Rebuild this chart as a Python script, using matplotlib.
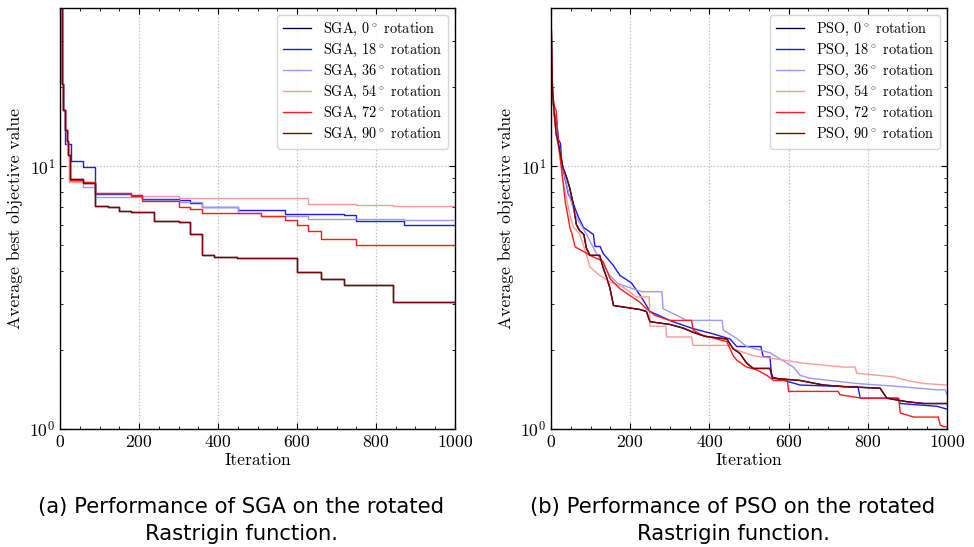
import matplotlib
matplotlib.use("Agg")

import matplotlib.pyplot as plt
from matplotlib.ticker import MultipleLocator, LogLocator, NullFormatter

# ---- data (iteration, average best objective) ----
angles = [0, 18, 36, 54, 72, 90]
colors = ["#00004d", "#1a1aff", "#9999ff", "#ff9999", "#ff1a1a", "#800000"]

# SGA: 0 and 90 degree runs coincide (Rastrigin is symmetric under 90 deg)
sga_90_x = [0, 4, 8, 13, 17, 21, 25, 59, 89, 122, 149, 180, 239, 300, 329, 359, 391, 447, 599, 661, 720, 842, 1000]
sga_90_y = [40, 20.5, 16.3, 13.7, 12.5, 11.0, 8.95, 8.66, 7.05, 7.0, 6.73, 6.67, 6.2, 6.12, 5.51, 4.58, 4.51, 4.47, 3.96, 3.73, 3.54, 3.05, 3.03]
sga_0_x = list(sga_90_x)
sga_0_y = list(sga_90_y)
sga_18_x = [0, 4, 8, 13, 27, 59, 89, 180, 208, 300, 329, 359, 450, 570, 720, 750, 870, 929, 1000]
sga_18_y = [40, 20.5, 16.3, 12.2, 10.45, 9.9, 7.85, 7.75, 7.52, 7.41, 7.25, 6.99, 6.79, 6.59, 6.5, 6.18, 6.0, 5.95, 5.95]
sga_36_x = [0, 4, 8, 13, 17, 24, 59, 89, 208, 300, 360, 451, 510, 629, 870, 1000]
sga_36_y = [40, 20.5, 16.3, 13.7, 12.0, 8.8, 8.3, 7.63, 7.45, 7.3, 7.0, 6.65, 6.45, 6.3, 6.22, 6.22]
sga_54_x = [0, 4, 8, 13, 17, 24, 89, 180, 300, 506, 629, 750, 842, 1000]
sga_54_y = [40, 20.5, 16.3, 13.7, 12.0, 8.7, 7.88, 7.68, 7.6, 7.57, 7.15, 7.1, 7.05, 7.0]
sga_72_x = [0, 4, 8, 13, 17, 21, 25, 59, 89, 180, 208, 300, 329, 359, 510, 570, 599, 629, 661, 750, 1000]
sga_72_y = [40, 20.5, 16.3, 13.7, 12.5, 11.0, 8.9, 8.7, 7.88, 7.68, 7.37, 6.99, 6.85, 6.63, 6.45, 6.25, 5.95, 5.66, 5.30, 5.0, 5.0]

# PSO (0 and 90 degree runs overlap as well)
pso_90_x = [0, 2, 4, 8, 13, 22, 30, 39, 47, 56, 64, 72, 83, 89, 98, 123, 131, 140, 148, 158, 224, 241,
            250, 300, 334, 360, 390, 444, 460, 477, 494, 511, 553, 560, 629, 688, 739, 831, 848, 899, 941, 1000]
pso_90_y = [40, 25, 19, 16, 13.3, 11.5, 9.9, 9.1, 8.3, 7.2, 6.0, 5.7, 5.5, 4.9, 4.58, 4.58, 4.14, 3.79, 3.47, 2.95, 2.85, 2.8,
            2.56, 2.50, 2.42, 2.33, 2.25, 2.20, 2.02, 1.94, 1.78, 1.70, 1.70, 1.56, 1.53, 1.47, 1.45, 1.43, 1.31, 1.27, 1.25, 1.25]
pso_0_x = list(pso_90_x)
pso_0_y = list(pso_90_y)
pso_18_x = [0, 2, 4, 8, 14, 19, 24, 27, 40, 44, 52, 61, 69, 82, 107, 111, 124, 132, 157, 174, 203, 228, 250,
            305, 359, 410, 452, 469, 530, 536, 553, 557, 570, 629, 739, 775, 781, 875, 882, 975, 1000]
pso_18_y = [40, 25, 19, 16, 14.9, 12.6, 12.2, 10.3, 8.34, 7.8, 7.5, 6.9, 6.42, 5.85, 5.5, 4.95, 4.95, 4.65, 4.2, 3.84, 3.6, 3.18, 2.8,
            2.57, 2.41, 2.3, 2.2, 2.06, 2.06, 1.88, 1.88, 1.58, 1.56, 1.47, 1.45, 1.45, 1.31, 1.31, 1.25, 1.22, 1.19]
pso_36_x = [0, 2, 4, 8, 13, 22, 30, 47, 64, 89, 98, 115, 131, 148, 170, 199, 230, 280, 283, 317, 342,
            432, 435, 469, 494, 553, 578, 612, 629, 654, 772, 882, 975, 995, 1000]
pso_36_y = [40, 25, 19, 16, 13.5, 11.5, 9.9, 7.63, 6.41, 5.53, 5.2, 4.65, 4.26, 3.84, 3.57, 3.45, 3.33, 3.33, 2.87, 2.71, 2.59,
            2.59, 2.38, 2.21, 2.06, 1.95, 1.85, 1.72, 1.60, 1.56, 1.49, 1.45, 1.41, 1.41, 1.35]
pso_54_x = [0, 2, 4, 8, 13, 22, 30, 47, 56, 72, 89, 98, 123, 148, 182, 216, 248, 250, 290, 292, 355, 359, 455, 460,
            511, 587, 637, 739, 768, 772, 865, 899, 941, 1000]
pso_54_y = [40, 25, 19, 16, 13.3, 11.0, 8.8, 6.6, 5.87, 5.53, 4.65, 4.14, 3.84, 3.63, 3.47, 3.18, 3.18, 2.46, 2.46, 2.24, 2.24, 2.08, 2.08, 2.02,
            1.9, 1.83, 1.78, 1.72, 1.72, 1.63, 1.58, 1.53, 1.49, 1.47]
pso_72_x = [0, 2, 4, 8, 13, 18, 27, 36, 44, 48, 52, 61, 86, 98, 131, 150, 174, 224, 241, 262, 300, 355,
            359, 380, 444, 460, 469, 494, 519, 545, 562, 597, 600, 725, 730, 785, 878, 882, 916, 978, 983, 992, 1000]
pso_72_y = [40, 25, 19, 17, 16.3, 12.5, 9.7, 7.3, 6.3, 5.8, 5.6, 4.93, 4.7, 4.58, 4.35, 3.72, 3.42, 3.04, 2.87, 2.71, 2.59, 2.59,
            2.38, 2.28, 2.15, 1.9, 1.83, 1.72, 1.68, 1.60, 1.53, 1.53, 1.39, 1.39, 1.35, 1.31, 1.31, 1.15, 1.11, 1.11, 1.035, 1.02, 1.02]

sga_series = [(sga_0_x, sga_0_y), (sga_18_x, sga_18_y), (sga_36_x, sga_36_y),
              (sga_54_x, sga_54_y), (sga_72_x, sga_72_y), (sga_90_x, sga_90_y)]
pso_series = [(pso_0_x, pso_0_y), (pso_18_x, pso_18_y), (pso_36_x, pso_36_y),
              (pso_54_x, pso_54_y), (pso_72_x, pso_72_y), (pso_90_x, pso_90_y)]

caption_lines = [("(a) Performance of SGA on the rotated", "Rastrigin function."),
                 ("(b) Performance of PSO on the rotated", "Rastrigin function.")]

plt.rcParams.update({
    "font.family": "serif",
    "font.serif": ["cmr10"],
    "mathtext.fontset": "cm",
    "axes.formatter.use_mathtext": True,
    "font.size": 12.7,
    "axes.linewidth": 1.0,
    "xtick.direction": "in",
    "ytick.direction": "in",
    "xtick.top": True,
    "ytick.right": True,
    "xtick.major.size": 4,
    "ytick.major.size": 4,
    "xtick.minor.size": 2,
    "ytick.minor.size": 2,
    "xtick.minor.visible": True,
    "ytick.minor.visible": True,
})


def draw_panel(ax, series, name, drawstyle):
    for (xs, ys), ang, col in zip(series, angles, colors):
        ax.plot(xs, ys, drawstyle=drawstyle, color=col, lw=1.0,
                label=f"{name}, {ang}$^\\circ$ rotation")
    ax.set_yscale("log")
    ax.set_xlim(0, 1000)
    ax.set_ylim(1, 40)
    ax.xaxis.set_major_locator(MultipleLocator(200))
    ax.xaxis.set_minor_locator(MultipleLocator(50))
    ax.yaxis.set_minor_locator(LogLocator(base=10, subs=range(2, 10)))
    ax.yaxis.set_minor_formatter(NullFormatter())
    ax.grid(True, which="major", ls=":", color="#bbbbbb", lw=0.9)
    ax.set_xlabel("Iteration", labelpad=2)
    ax.set_ylabel("Average best objective value")
    ax.legend(loc="upper right", fontsize=10.3, labelspacing=0.28)


fig = plt.figure(figsize=(9.74, 5.47), dpi=100)
ax1 = fig.add_axes([60 / 974, 118 / 547, 395 / 974, 421 / 547])
ax2 = fig.add_axes([551 / 974, 118 / 547, 396 / 974, 421 / 547])
draw_panel(ax1, sga_series, "SGA", "steps-post")
draw_panel(ax2, pso_series, "PSO", "default")

for xc, (line1, line2) in zip([241 / 974, 733 / 974], caption_lines):
    fig.text(xc, 1 - 513 / 547, line1, ha="center", va="baseline",
             family="DejaVu Sans", fontsize=15.2)
    fig.text(xc, 1 - 540 / 547, line2, ha="center", va="baseline",
             family="DejaVu Sans", fontsize=15.2)

fig.savefig("out.png", dpi=100)
